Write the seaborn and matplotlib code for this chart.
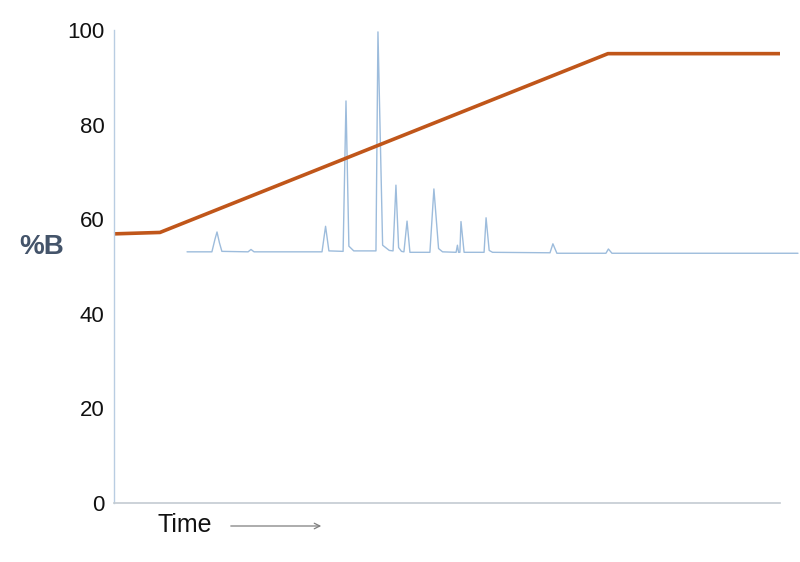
import matplotlib
matplotlib.use("Agg")
import matplotlib.pyplot as plt
import seaborn as sns
import pandas as pd

# Gradient program (%B vs time)
grad_time = [0.0, 2.07, 22.25, 30.0]
grad_pct = [56.9, 57.2, 95.0, 95.0]

# Chromatogram trace (time, signal on the %B scale)
chrom_time = [3.29,
              4.41, 4.55, 4.64, 4.75, 4.86,
              6.04, 6.17, 6.31,
              9.37, 9.53, 9.68,
              10.32, 10.45, 10.58, 10.80,
              11.80, 11.89, 12.10, 12.40,
              12.57, 12.70, 12.82, 12.95,
              13.06, 13.20, 13.33,
              14.23, 14.41, 14.62, 14.80,
              15.41, 15.47, 15.52,
              15.58, 15.63, 15.77,
              16.67, 16.76, 16.90, 17.05,
              19.64, 19.77, 19.95,
              22.16, 22.27, 22.43,
              30.81]
chrom_sig = [53.1,
             53.1, 55.8, 57.3, 55.0, 53.2,
             53.1, 53.6, 53.1,
             53.1, 58.5, 53.3,
             53.2, 85.0, 54.3, 53.3,
             53.3, 99.6, 54.5, 53.4,
             53.3, 67.2, 54.0, 53.2,
             53.1, 59.6, 53.0,
             53.0, 66.4, 53.8, 53.1,
             53.0, 54.5, 53.0,
             53.0, 59.5, 53.0,
             53.0, 60.3, 53.4, 53.0,
             52.9, 54.8, 52.8,
             52.8, 53.7, 52.8,
             52.8]

y_ticks = [0, 20, 40, 60, 80, 100]

sns.set_theme(style="white")
plt.rcParams['font.family'] = ['Liberation Sans', 'DejaVu Sans']

fig = plt.figure(figsize=(8, 5.62), dpi=100)
ax = fig.add_axes([114/800, 1 - 503/562, (780-114)/800, (503-30)/562])

chrom = pd.DataFrame({"t": chrom_time, "s": chrom_sig})
grad = pd.DataFrame({"t": grad_time, "b": grad_pct})

sns.lineplot(data=chrom, x="t", y="s", ax=ax, color="#9dbcdc", linewidth=1.0,
             estimator=None, sort=False, clip_on=False)
sns.lineplot(data=grad, x="t", y="b", ax=ax, color="#c0561a", linewidth=2.6,
             estimator=None, sort=False, clip_on=False, solid_capstyle="butt")

ax.set_xlim(0, 30)
ax.set_ylim(0, 100)
ax.set_yticks(y_ticks)
ax.set_yticklabels([str(v) for v in y_ticks], fontsize=16, color="#111111")
ax.set_xticks([])
ax.tick_params(axis="y", length=0, pad=7)
ax.set_xlabel("")
ax.set_ylabel("")

for s in ["top", "right"]:
    ax.spines[s].set_visible(False)
ax.spines["left"].set_color("#b9cde2")
ax.spines["left"].set_linewidth(1.0)
ax.spines["bottom"].set_color("#c3cbd2")
ax.spines["bottom"].set_linewidth(1.2)

fig.text(42/800, 1 - 247/562, "%B", fontsize=20, fontweight="bold",
         color="#44546a", ha="center", va="center")
fig.text(185/800, 1 - 525/562, "Time", fontsize=18, color="#111111",
         ha="center", va="center")
fig.add_artist(matplotlib.patches.FancyArrowPatch(
    (228/800, 1 - 526/562), (324/800, 1 - 526/562),
    transform=fig.transFigure, arrowstyle="->", mutation_scale=10,
    color="#7f7f7f", linewidth=0.9))

fig.savefig("out.png", dpi=100)
